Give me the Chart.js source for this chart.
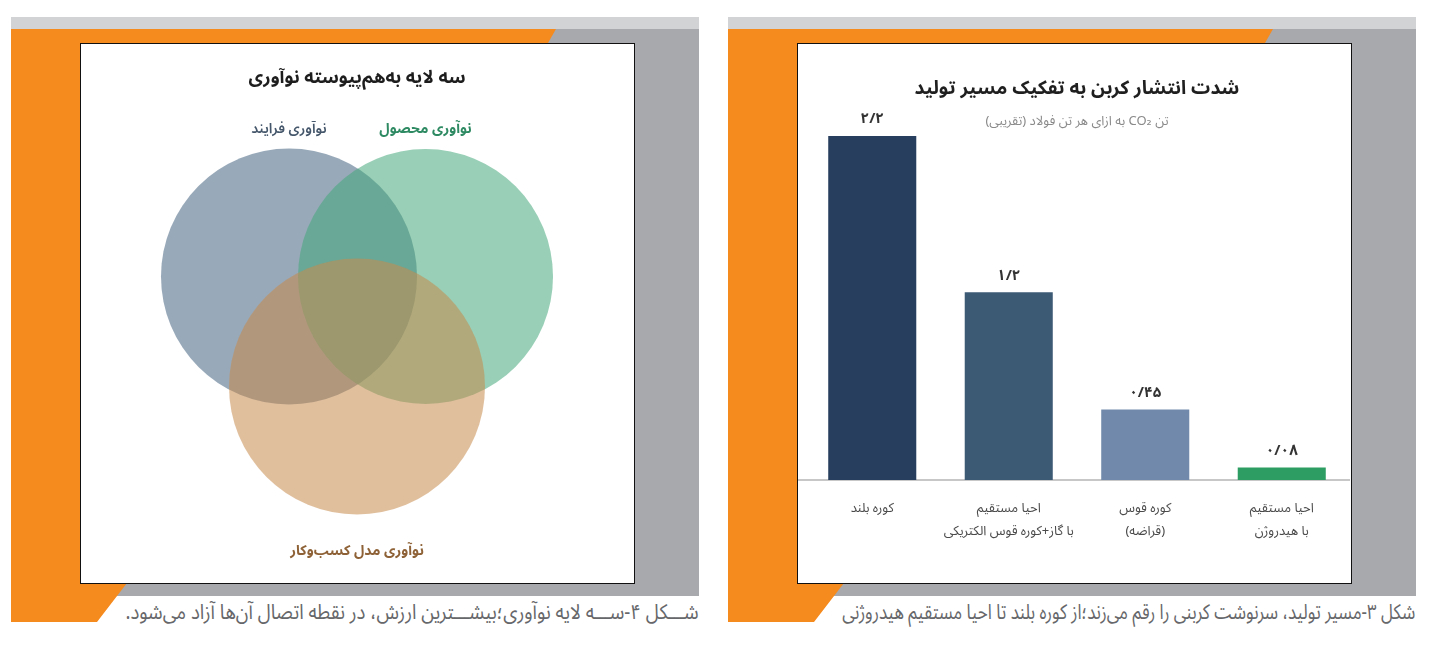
<!DOCTYPE html>
<html lang="fa">
<head>
<meta charset="utf-8">
<script src="https://cdn.jsdelivr.net/npm/chart.js@4.4.1/dist/chart.umd.min.js"></script>
<style>
html,body{margin:0;padding:0;background:#fff;width:1433px;height:651px;overflow:hidden;position:relative;}
.abs{position:absolute;}
.strip{background:#d1d3d4;}
.gray{background:#a7a9ac;}
.orange{background:#f58a1f;clip-path:polygon(0px 0px,545px 0px,537px 14px,69px 14px,69px 554px,116px 554px,86px 593px,0px 593px);}
.box{background:#fff;border:1.5px solid #111;box-sizing:border-box;}
.box canvas{position:absolute;left:0;top:0;}
.caption{font-family:'Noto Sans Arabic','DejaVu Sans',sans-serif;color:#66676a;font-size:21px;white-space:nowrap;direction:rtl;transform-origin:right center;line-height:26px;}
</style>
</head>
<body>
<script>
// ---------- Data ----------
const vennTitle = 'سه لایه به\u200cهم\u200cپیوسته نوآوری';
const vennSets = ['نوآوری فرایند', 'نوآوری محصول', 'نوآوری مدل کسب\u200cوکار'];
const vennX = [-0.68, 0.685, 0];
const vennY = [0.55, 0.55, -0.55];
const vennR = [1.28, 1.275, 1.28];

const barTitle = 'شدت انتشار کربن به تفکیک مسیر تولید';
const barSubtitle = 'تن CO₂ به ازای هر تن فولاد (تقریبی)';
const barCategories = [
  ['کوره بلند'],
  ['احیا مستقیم', 'با گاز+کوره قوس الکتریکی'],
  ['کوره قوس', '(قراضه)'],
  ['احیا مستقیم', 'با هیدروژن']
];
const barValues = [2.2, 1.2, 0.45, 0.08];

const captionLeft = 'شـــکل ۴-ســـه لایه نوآوری؛بیشـــترین ارزش، در نقطه اتصال آن\u200cها آزاد می\u200cشود.';
const captionRight = 'شکل ۳-مسیر تولید، سرنوشت کربنی را رقم می\u200cزند؛از کوره بلند تا احیا مستقیم هیدروژنی';

// ---------- Styles ----------
const FONT = "'Noto Sans Arabic', 'DejaVu Sans', sans-serif";
const vennFill = ['rgba(68,99,128,0.55)', 'rgba(68,168,122,0.55)', 'rgba(199,139,77,0.55)'];
const vennLabelColor = ['#44566a', '#2e8a62', '#8e6236'];
const vennLabelWeight = ['600', 'bold', 'bold'];
const barColors = ['#283e5e', '#3d5a75', '#718aab', '#2e9d63'];

// ---------- Frames ----------
function el(cls, css, parent) {
  const d = document.createElement('div');
  d.className = cls;
  Object.assign(d.style, css);
  (parent || document.body).appendChild(d);
  return d;
}
function panel(dx) {
  el('abs strip', {left: (11 + dx) + 'px', top: '17px', width: '688px', height: '12px'});
  el('abs gray', {left: (11 + dx) + 'px', top: '29px', width: '688px', height: '567px'});
  el('abs orange', {left: (11 + dx) + 'px', top: '29px', width: '545px', height: '593px'});
  return el('abs box', {left: (80 + dx) + 'px', top: '43px', width: '555px', height: '541px'});
}
const leftBox = panel(0);
const rightBox = panel(717);

function caption(text, rightEdge, targetW) {
  const c = el('abs caption', {right: (1433 - rightEdge) + 'px', top: '599px'});
  c.textContent = text;
  const w = c.getBoundingClientRect().width;
  c.style.transform = 'scaleX(' + (targetW / w) + ')';
}
caption(captionLeft, 698, 573);
caption(captionRight, 1415, 573);

const CW = 552, CH = 538;
function makeCanvas(box) {
  const cv = document.createElement('canvas');
  cv.width = CW; cv.height = CH;
  cv.style.width = CW + 'px'; cv.style.height = CH + 'px';
  cv.dir = 'rtl';
  box.appendChild(cv);
  return cv;
}

Chart.defaults.font.family = FONT;
Chart.defaults.animation = false;

// ---------- Venn (bubble) ----------
const VX_MIN = -2.76, VX_MAX = 2.76, VY_MIN = -2.505, VY_MAX = 2.875;
const pxPerUnit = CW / (VX_MAX - VX_MIN);

const vennTextPlugin = {
  id: 'vennText',
  afterDatasetsDraw(chart) {
    const ctx = chart.ctx, xs = chart.scales.x, ys = chart.scales.y;
    ctx.save();
    ctx.textAlign = 'center';
    ctx.textBaseline = 'middle';
    ctx.direction = 'rtl';
    ctx.fillStyle = '#1d1d1d';
    ctx.font = 'bold 18px ' + FONT;
    ctx.fillText(vennTitle, chart.width / 2, 36.5);
    vennSets.forEach((name, i) => {
      const px = xs.getPixelForValue(vennX[i]);
      const py = ys.getPixelForValue(vennY[i]);
      const rp = Math.abs(xs.getPixelForValue(vennR[i]) - xs.getPixelForValue(0));
      const ly = vennY[i] > 0 ? py - rp - 18 : py + rp + 38;
      ctx.fillStyle = vennLabelColor[i];
      ctx.font = vennLabelWeight[i] + ' 14px ' + FONT;
      ctx.fillText(name, px, ly);
    });
    ctx.restore();
  }
};

new Chart(makeCanvas(leftBox), {
  type: 'bubble',
  data: {
    datasets: [{
      data: vennX.map((x, i) => ({x: x, y: vennY[i], r: vennR[i] * pxPerUnit})),
      backgroundColor: vennFill,
      borderWidth: 0
    }]
  },
  options: {
    responsive: false,
    events: [],
    layout: {padding: 0, autoPadding: false},
    plugins: {legend: {display: false}, tooltip: {enabled: false}},
    scales: {
      x: {type: 'linear', display: false, min: VX_MIN, max: VX_MAX},
      y: {type: 'linear', display: false, min: VY_MIN, max: VY_MAX}
    }
  },
  plugins: [vennTextPlugin]
});

// ---------- Bar chart ----------
const toFa = (v) => String(v).replace('.', '/').replace(/\d/g, (d) => '۰۱۲۳۴۵۶۷۸۹'[d]);

const barExtrasPlugin = {
  id: 'barExtras',
  beforeDatasetsDraw(chart) {
    const ctx = chart.ctx;
    const y0 = chart.scales.y.getPixelForValue(0);
    ctx.save();
    ctx.strokeStyle = '#b4b4b4';
    ctx.lineWidth = 1.5;
    ctx.beginPath();
    ctx.moveTo(0, y0);
    ctx.lineTo(chart.width, y0);
    ctx.stroke();
    ctx.restore();
  },
  afterDatasetsDraw(chart) {
    const ctx = chart.ctx;
    const meta = chart.getDatasetMeta(0);
    ctx.save();
    ctx.textAlign = 'center';
    ctx.textBaseline = 'middle';
    ctx.fillStyle = '#333333';
    ctx.font = 'bold 15px ' + FONT;
    meta.data.forEach((bar, i) => {
      ctx.fillText(toFa(barValues[i]), bar.x, bar.y - 15);
    });
    ctx.restore();
  }
};

new Chart(makeCanvas(rightBox), {
  type: 'bar',
  data: {
    labels: barCategories,
    datasets: [{
      data: barValues,
      backgroundColor: barColors,
      borderWidth: 0,
      categoryPercentage: 1,
      barPercentage: 0.645
    }]
  },
  options: {
    responsive: false,
    events: [],
    layout: {padding: {left: 6, right: 0, top: 0, bottom: 19}},
    plugins: {
      legend: {display: false},
      tooltip: {enabled: false},
      title: {
        display: true,
        text: barTitle,
        color: '#1f1f1f',
        font: {size: 19, weight: 'bold', lineHeight: 1.2},
        padding: {top: 35.6, bottom: 12.8}
      },
      subtitle: {
        display: true,
        text: barSubtitle,
        color: '#8a8a8a',
        font: {size: 13, weight: 'normal', lineHeight: 1.2},
        padding: {top: 0, bottom: 5.1}
      }
    },
    scales: {
      x: {
        grid: {display: false, drawTicks: false},
        border: {display: false},
        ticks: {
          color: '#4a4a4a',
          padding: 18.5,
          autoSkip: false,
          maxRotation: 0,
          font: {size: 13, lineHeight: '23px'}
        }
      },
      y: {display: false, min: 0, max: Math.max(...barValues), grid: {display: false}}
    }
  },
  plugins: [barExtrasPlugin]
});
</script>
</body>
</html>
